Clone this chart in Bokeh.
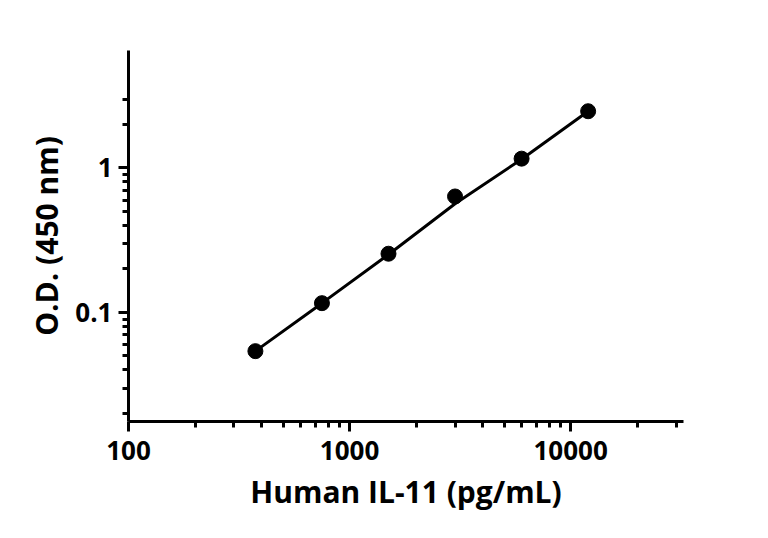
from bokeh.plotting import figure
from bokeh.models import FixedTicker, CustomJSTickFormatter
from bokeh.embed import file_html
from bokeh.resources import INLINE

# Data (points)
conc = [375, 750, 1500, 3000, 6000, 12000]
od = [0.054, 0.116, 0.255, 0.635, 1.16, 2.47]

# Fitted curve
curve_x = [375, 750, 1500, 3000, 6000, 12000]
curve_y = [0.054, 0.116, 0.252, 0.565, 1.15, 2.47]

x_major = [100, 1000, 10000]
x_minor = [200, 300, 400, 500, 600, 700, 800, 900,
           2000, 3000, 4000, 5000, 6000, 7000, 8000, 9000,
           20000, 30000]
y_major = [0.1, 1]
y_minor = [0.02, 0.03, 0.04, 0.05, 0.06, 0.07, 0.08, 0.09,
           0.2, 0.3, 0.4, 0.5, 0.6, 0.7, 0.8, 0.9, 2, 3]

FONT = "Open Sans"

p = figure(width=768, height=538, x_axis_type="log", y_axis_type="log",
           x_range=(100, 32400), y_range=(0.0176, 6.5),
           output_backend="svg", toolbar_location=None,
           min_border_left=128, min_border_right=85,
           min_border_top=50, min_border_bottom=117)
p.outline_line_color = None
p.grid.visible = False
p.background_fill_color = "white"
p.border_fill_color = "white"

p.line(curve_x, curve_y, line_color="black", line_width=3)
p.scatter(conc, od, size=15, fill_color="black", line_color="black")

fmt = CustomJSTickFormatter(code="return tick.toString();")

for ax, maj, mnr in ((p.xaxis[0], x_major, x_minor), (p.yaxis[0], y_major, y_minor)):
    ax.ticker = FixedTicker(ticks=maj, minor_ticks=mnr)
    ax.formatter = fmt
    ax.axis_line_width = 3
    ax.axis_line_color = "black"
    ax.major_tick_line_width = 3
    ax.minor_tick_line_width = 3
    ax.major_tick_in = 0
    ax.minor_tick_in = 0
    ax.major_tick_out = 10
    ax.minor_tick_out = 6
    ax.major_label_text_font = FONT
    ax.major_label_text_font_style = "bold"
    ax.major_label_text_font_size = "26px"
    ax.major_label_text_color = "black"
    ax.axis_label_text_font = FONT
    ax.axis_label_text_font_style = "bold"
    ax.axis_label_text_font_size = "30px"
    ax.axis_label_text_color = "black"

p.xaxis.axis_label = "Human IL-11 (pg/mL)"
p.yaxis.axis_label = "O.D. (450 nm)"
p.xaxis.major_label_standoff = 9
p.yaxis.major_label_standoff = 6
p.xaxis.axis_label_standoff = 8
p.yaxis.axis_label_standoff = 5

open("out.html", "w").write(file_html(p, INLINE))
